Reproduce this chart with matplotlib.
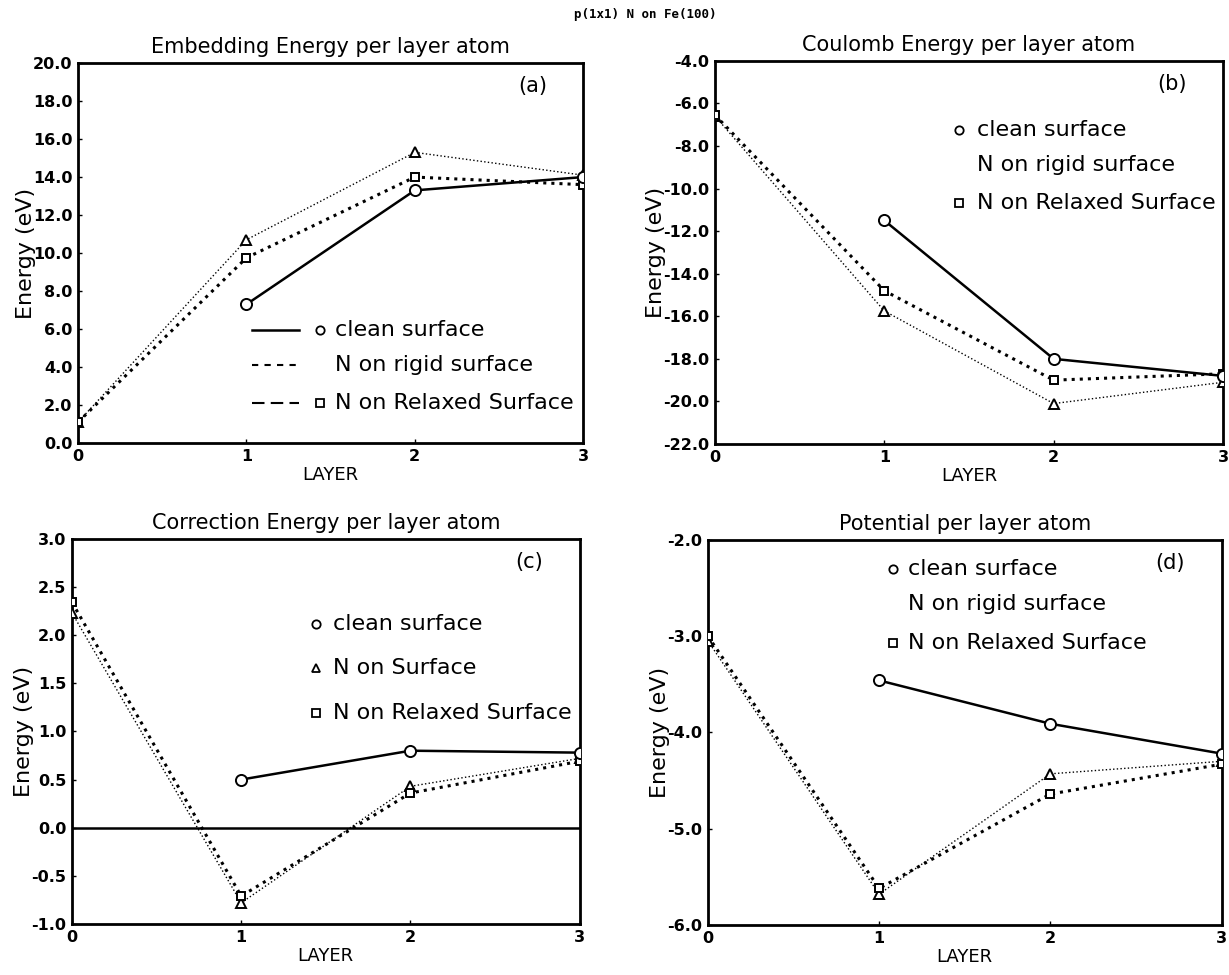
"""p(1x1) N on Fe(100) — layer-resolved energies, four panels."""
import matplotlib
matplotlib.use("Agg")
import matplotlib.pyplot as plt
from matplotlib.ticker import FormatStrFormatter

LAYERS = [0, 1, 2, 3]
CLEAN_LAYERS = [1, 2, 3]

# (a) embedding energy per layer atom
emb_clean = [7.3, 13.3, 14.0]
emb_rigid = [1.1, 10.7, 15.3, 14.1]
emb_relax = [1.1, 9.75, 14.0, 13.6]

# (b) coulomb energy per layer atom
coul_clean = [-11.5, -18.0, -18.8]
coul_rigid = [-6.6, -15.75, -20.1, -19.1]
coul_relax = [-6.55, -14.8, -19.0, -18.7]

# (c) correction energy per layer atom
corr_clean = [0.5, 0.8, 0.78]
corr_rigid = [2.23, -0.78, 0.43, 0.72]
corr_relax = [2.34, -0.71, 0.36, 0.69]

# (d) potential per layer atom
pot_clean = [-3.46, -3.91, -4.22]
pot_rigid = [-3.05, -5.68, -4.43, -4.30]
pot_relax = [-3.0, -5.62, -4.64, -4.33]

TITLES = ["Embedding Energy per layer atom", "Coulomb Energy per layer atom",
          "Correction Energy per layer atom", "Potential per layer atom"]
TAGS = ["(a)", "(b)", "(c)", "(d)"]
LEG_A = ["clean surface", "N on rigid surface", "N on Relaxed Surface"]
LEG_C = ["clean surface", "N on Surface", "N on Relaxed Surface"]

plt.rcParams["font.family"] = "DejaVu Sans"

fig = plt.figure(figsize=(12.29, 9.75), dpi=100)
boxes = [[0.0635, 0.5456, 0.411, 0.3897],
         [0.5818, 0.5446, 0.4133, 0.393],
         [0.0586, 0.0523, 0.413, 0.395],
         [0.576, 0.0513, 0.418, 0.395]]
axes = [fig.add_axes(b) for b in boxes]

series = [(emb_clean, emb_rigid, emb_relax, (0, 20), 2.0),
          (coul_clean, coul_rigid, coul_relax, (-22, -4), 2.0),
          (corr_clean, corr_rigid, corr_relax, (-1, 3), 0.5),
          (pot_clean, pot_rigid, pot_relax, (-6, -2), 1.0)]

mk = dict(mfc="white", mec="black", mew=1.4, color="black")
for ax, (cl, rg, rx, ylim, step), title, tag in zip(axes, series, TITLES, TAGS):
    ax.plot(LAYERS, rg, ":", lw=1.0, marker="^", ms=7, **mk, zorder=3)
    ax.plot(LAYERS, rx, ":", lw=2.2, marker="s", ms=6, **mk, zorder=4)
    ax.plot(CLEAN_LAYERS, cl, "-", lw=1.8, marker="o", ms=8, **mk, zorder=5)
    ax.set_xlim(0, 3)
    ax.set_ylim(*ylim)
    n = int(round((ylim[1] - ylim[0]) / step))
    ax.set_yticks([ylim[0] + i * step for i in range(n + 1)])
    ax.set_xticks(LAYERS)
    ax.yaxis.set_major_formatter(FormatStrFormatter("%.1f"))
    ax.tick_params(direction="in", length=3, width=1, labelsize=11.5, pad=4)
    for lbl in ax.get_xticklabels() + ax.get_yticklabels():
        lbl.set_fontweight("bold")
    for sp in ax.spines.values():
        sp.set_linewidth(2)
    ax.set_title(title, fontsize=15, pad=7)
    ax.set_xlabel("LAYER", fontsize=13, labelpad=2)
    ax.set_ylabel("Energy (eV)", fontsize=16, labelpad=-2)
    ax.text(0.90, 0.94, tag, transform=ax.transAxes, fontsize=15,
            ha="center", va="center")

ax_a, ax_b, ax_c, ax_d = axes
ax_c.axhline(0, color="black", lw=1.8, zorder=2)

# legend (a): line sample + marker + text
tr = ax_a.transAxes
rows = [0.297, 0.205, 0.105]
styles = [("-", 1.8), ((0, (3, 3)), 1.5), ((0, (6, 3)), 1.5)]
markers = ["o", None, "s"]
for y, (ls, lw), m, txt in zip(rows, styles, markers, LEG_A):
    ax_a.plot([0.345, 0.438], [y, y], ls=ls, lw=lw, color="black", transform=tr)
    if m:
        ax_a.plot([0.479], [y], m, ms=6, mfc="white", mec="black", mew=1.3,
                  transform=tr)
    ax_a.text(0.509, y, txt, transform=tr, fontsize=16, va="center")

# legends (b), (c), (d): marker + text
for ax, labels, ms, xm, xt, rows in [
        (ax_b, LEG_A, ["o", None, "s"], 0.48, 0.516, [0.82, 0.728, 0.629]),
        (ax_c, LEG_C, ["o", "^", "s"], 0.48, 0.515, [0.78, 0.665, 0.548]),
        (ax_d, LEG_A, ["o", None, "s"], 0.36, 0.39, [0.925, 0.834, 0.733])]:
    tr = ax.transAxes
    for y, m, txt in zip(rows, ms, labels):
        if m:
            ax.plot([xm], [y], m, ms=6, mfc="white", mec="black", mew=1.3,
                    transform=tr)
        ax.text(xt, y, txt, transform=tr, fontsize=16, va="center", clip_on=True)

fig.text(0.525, 0.985, "p(1x1) N on Fe(100)", ha="center", va="center",
         fontsize=9, fontweight="bold", family="DejaVu Sans Mono")

fig.savefig("out.png", dpi=100)
